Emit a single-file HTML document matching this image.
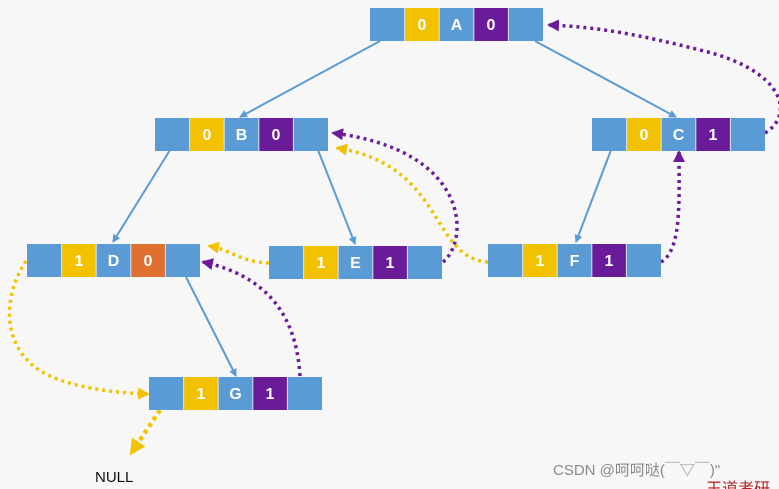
<!DOCTYPE html>
<html><head><meta charset="utf-8"><style>
html,body{margin:0;padding:0;background:#f7f7f7;}
svg{display:block;}
</style></head><body>
<svg width="779" height="489" viewBox="0 0 779 489" xmlns="http://www.w3.org/2000/svg" font-family="Liberation Sans, sans-serif">
<defs>
<marker id="ab" markerWidth="8" markerHeight="8" refX="7" refY="4" orient="auto" markerUnits="userSpaceOnUse"><path d="M0,0 L8,4 L0,8 z" fill="#5b9bd5"/></marker>
<marker id="ap" markerWidth="12" markerHeight="12" refX="10" refY="6" orient="auto" markerUnits="userSpaceOnUse"><path d="M0,0 L12,6 L0,12 z" fill="#6a1b9a"/></marker>
<marker id="ay" markerWidth="12" markerHeight="12" refX="10" refY="6" orient="auto" markerUnits="userSpaceOnUse"><path d="M0,0 L12,6 L0,12 z" fill="#f2c200"/></marker>
<marker id="ay2" markerWidth="16" markerHeight="16" refX="12" refY="8" orient="auto" markerUnits="userSpaceOnUse"><path d="M0,0 L16,8 L0,16 z" fill="#f2c200"/></marker>
</defs>
<rect width="779" height="489" fill="#f7f7f7"/>

<!-- solid tree edges -->
<g stroke="#5b9bd5" stroke-width="2" fill="none">
<line x1="380" y1="41" x2="240" y2="117" marker-end="url(#ab)"/>
<line x1="535" y1="41" x2="676" y2="117" marker-end="url(#ab)"/>
<line x1="170" y1="150" x2="113" y2="242" marker-end="url(#ab)"/>
<line x1="318" y1="150" x2="355" y2="244" marker-end="url(#ab)"/>
<line x1="611" y1="150" x2="576" y2="242" marker-end="url(#ab)"/>
<line x1="186" y1="277" x2="236" y2="376" marker-end="url(#ab)"/>
</g>

<!-- dotted threads -->
<g fill="none" stroke-width="3.5" stroke-dasharray="3 4">
<path d="M765,133 C795,115 785,70 700,50 C640,35 600,27 549,25" stroke="#6a1b9a" marker-end="url(#ap)"/>
<path d="M443,262 C470,240 470,150 333,133" stroke="#6a1b9a" marker-end="url(#ap)"/>
<path d="M661,262 C682,250 679,200 679,152" stroke="#6a1b9a" marker-end="url(#ap)"/>
<path d="M300,376 C296,310 262,275 203,262" stroke="#6a1b9a" marker-end="url(#ap)"/>
<path d="M488,262 C430,258 445,165 337,148" stroke="#f2c200" marker-end="url(#ay)"/>
<path d="M269,263 C240,262 232,250 209,246" stroke="#f2c200" marker-end="url(#ay)"/>
<path d="M26,261 C0,300 0,360 60,380 C90,390 120,393 148,394" stroke="#f2c200" marker-end="url(#ay)"/>
<path d="M160,410 L132,452" stroke="#f2c200" stroke-width="4.5" stroke-dasharray="4 4" marker-end="url(#ay2)"/>
</g>

<!-- nodes -->
<g font-size="16" font-weight="bold" fill="#fff" text-anchor="middle">
<!-- template cells drawn per node -->
<g transform="translate(370,8)">
<rect x="0" y="0" width="34.6" height="33" fill="#5b9bd5"/><rect x="34.6" width="34.6" height="33" fill="#f2c200"/><rect x="69.2" width="34.6" height="33" fill="#5b9bd5"/><rect x="103.8" width="34.6" height="33" fill="#6a1b9a"/><rect x="138.4" width="34.6" height="33" fill="#5b9bd5"/>
<g stroke="#dbe8f5" stroke-width="1"><line x1="34.6" y1="0" x2="34.6" y2="33"/><line x1="69.2" y1="0" x2="69.2" y2="33"/><line x1="103.8" y1="0" x2="103.8" y2="33"/><line x1="138.4" y1="0" x2="138.4" y2="33"/></g>
<text x="52" y="22">0</text><text x="86.5" y="22">A</text><text x="121" y="22">0</text></g>

<g transform="translate(155,118)">
<rect x="0" y="0" width="34.6" height="33" fill="#5b9bd5"/><rect x="34.6" width="34.6" height="33" fill="#f2c200"/><rect x="69.2" width="34.6" height="33" fill="#5b9bd5"/><rect x="103.8" width="34.6" height="33" fill="#6a1b9a"/><rect x="138.4" width="34.6" height="33" fill="#5b9bd5"/>
<g stroke="#dbe8f5" stroke-width="1"><line x1="34.6" y1="0" x2="34.6" y2="33"/><line x1="69.2" y1="0" x2="69.2" y2="33"/><line x1="103.8" y1="0" x2="103.8" y2="33"/><line x1="138.4" y1="0" x2="138.4" y2="33"/></g>
<text x="52" y="22">0</text><text x="86.5" y="22">B</text><text x="121" y="22">0</text></g>

<g transform="translate(592,118)">
<rect x="0" y="0" width="34.6" height="33" fill="#5b9bd5"/><rect x="34.6" width="34.6" height="33" fill="#f2c200"/><rect x="69.2" width="34.6" height="33" fill="#5b9bd5"/><rect x="103.8" width="34.6" height="33" fill="#6a1b9a"/><rect x="138.4" width="34.6" height="33" fill="#5b9bd5"/>
<g stroke="#dbe8f5" stroke-width="1"><line x1="34.6" y1="0" x2="34.6" y2="33"/><line x1="69.2" y1="0" x2="69.2" y2="33"/><line x1="103.8" y1="0" x2="103.8" y2="33"/><line x1="138.4" y1="0" x2="138.4" y2="33"/></g>
<text x="52" y="22">0</text><text x="86.5" y="22">C</text><text x="121" y="22">1</text></g>

<g transform="translate(27,244)">
<rect x="0" y="0" width="34.6" height="33" fill="#5b9bd5"/><rect x="34.6" width="34.6" height="33" fill="#f2c200"/><rect x="69.2" width="34.6" height="33" fill="#5b9bd5"/><rect x="103.8" width="34.6" height="33" fill="#e07030"/><rect x="138.4" width="34.6" height="33" fill="#5b9bd5"/>
<g stroke="#dbe8f5" stroke-width="1"><line x1="34.6" y1="0" x2="34.6" y2="33"/><line x1="69.2" y1="0" x2="69.2" y2="33"/><line x1="103.8" y1="0" x2="103.8" y2="33"/><line x1="138.4" y1="0" x2="138.4" y2="33"/></g>
<text x="52" y="22">1</text><text x="86.5" y="22">D</text><text x="121" y="22">0</text></g>

<g transform="translate(269,246)">
<rect x="0" y="0" width="34.6" height="33" fill="#5b9bd5"/><rect x="34.6" width="34.6" height="33" fill="#f2c200"/><rect x="69.2" width="34.6" height="33" fill="#5b9bd5"/><rect x="103.8" width="34.6" height="33" fill="#6a1b9a"/><rect x="138.4" width="34.6" height="33" fill="#5b9bd5"/>
<g stroke="#dbe8f5" stroke-width="1"><line x1="34.6" y1="0" x2="34.6" y2="33"/><line x1="69.2" y1="0" x2="69.2" y2="33"/><line x1="103.8" y1="0" x2="103.8" y2="33"/><line x1="138.4" y1="0" x2="138.4" y2="33"/></g>
<text x="52" y="22">1</text><text x="86.5" y="22">E</text><text x="121" y="22">1</text></g>

<g transform="translate(488,244)">
<rect x="0" y="0" width="34.6" height="33" fill="#5b9bd5"/><rect x="34.6" width="34.6" height="33" fill="#f2c200"/><rect x="69.2" width="34.6" height="33" fill="#5b9bd5"/><rect x="103.8" width="34.6" height="33" fill="#6a1b9a"/><rect x="138.4" width="34.6" height="33" fill="#5b9bd5"/>
<g stroke="#dbe8f5" stroke-width="1"><line x1="34.6" y1="0" x2="34.6" y2="33"/><line x1="69.2" y1="0" x2="69.2" y2="33"/><line x1="103.8" y1="0" x2="103.8" y2="33"/><line x1="138.4" y1="0" x2="138.4" y2="33"/></g>
<text x="52" y="22">1</text><text x="86.5" y="22">F</text><text x="121" y="22">1</text></g>

<g transform="translate(149,377)">
<rect x="0" y="0" width="34.6" height="33" fill="#5b9bd5"/><rect x="34.6" width="34.6" height="33" fill="#f2c200"/><rect x="69.2" width="34.6" height="33" fill="#5b9bd5"/><rect x="103.8" width="34.6" height="33" fill="#6a1b9a"/><rect x="138.4" width="34.6" height="33" fill="#5b9bd5"/>
<g stroke="#dbe8f5" stroke-width="1"><line x1="34.6" y1="0" x2="34.6" y2="33"/><line x1="69.2" y1="0" x2="69.2" y2="33"/><line x1="103.8" y1="0" x2="103.8" y2="33"/><line x1="138.4" y1="0" x2="138.4" y2="33"/></g>
<text x="52" y="22">1</text><text x="86.5" y="22">G</text><text x="121" y="22">1</text></g>
</g>

<text x="95" y="482" font-size="15" fill="#111">NULL</text>
<text x="553" y="475" font-size="15" fill="#8a8a8a" font-family="Liberation Sans, Noto Sans CJK SC, sans-serif">CSDN @呵呵哒(￣▽￣)"</text>
<text x="706" y="494" font-size="16" fill="#b22222" font-family="Liberation Sans, Noto Sans CJK SC, sans-serif">王道考研</text>
</svg>
</body></html>
